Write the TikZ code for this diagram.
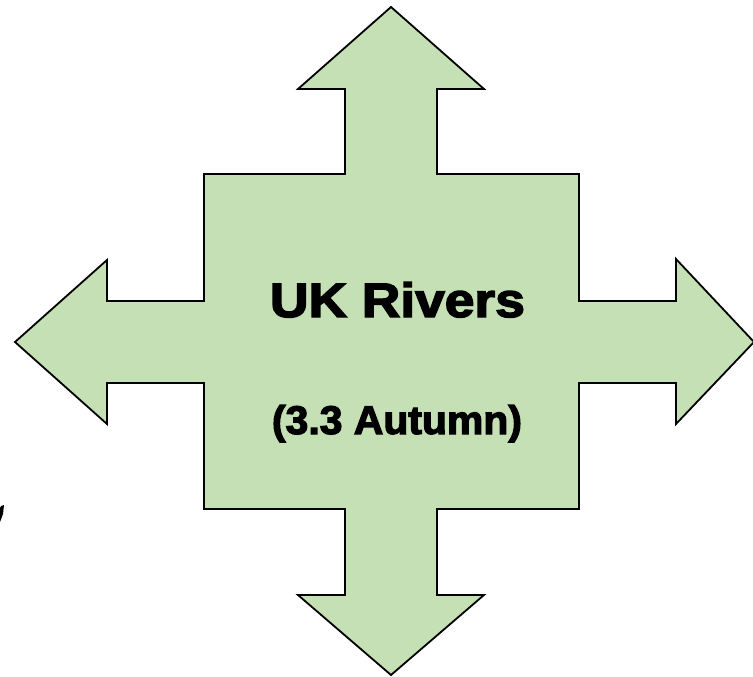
\documentclass[tikz,border=0pt]{standalone}
\usepackage{fontspec}
\setmainfont{Liberation Sans}
\newfontfamily\heavyfont[FakeBold=3]{Liberation Sans Bold}
\definecolor{leafgreen}{HTML}{C5E0B4}
\tikzset{
  crossarrow/.style={fill=leafgreen, draw=black, line width=1.8pt, line join=miter},
  titletext/.style={font=\heavyfont, text=black, inner sep=0pt, anchor=base},
}
\begin{document}
\begin{tikzpicture}[x=1pt, y=-1pt]
  \useasboundingbox (0,0) rectangle (753,677);
  % four-way arrow around a square centre
  \draw[crossarrow]
    (391,7) -- (484,89) -- (437,89) -- (437,174) -- (579,174) -- (579,301)
    -- (676,301) -- (676,259) -- (754,342) -- (676,424) -- (676,383)
    -- (579,383) -- (579,509) -- (437,509) -- (437,595) -- (484,595)
    -- (391,675) -- (298,595) -- (345,595) -- (345,509) -- (204,509)
    -- (204,383) -- (107,383) -- (107,424) -- (15,342) -- (107,260)
    -- (107,301) -- (204,301) -- (204,174) -- (345,174) -- (345,89)
    -- (298,89) -- cycle;
  % stray mark at the left edge
  \fill[black] (1,506) -- (4,505) -- (3,514) -- (0,522) -- (0,508) -- cycle;
  % labels
  \node[titletext] (title) at (397.5,317)
    {\resizebox{255pt}{35pt}{UK Rivers}};
  \node[titletext] (season) at (397,434)
    {\resizebox{250pt}{29pt}{(3.3 Autumn)}};
\end{tikzpicture}
\end{document}
